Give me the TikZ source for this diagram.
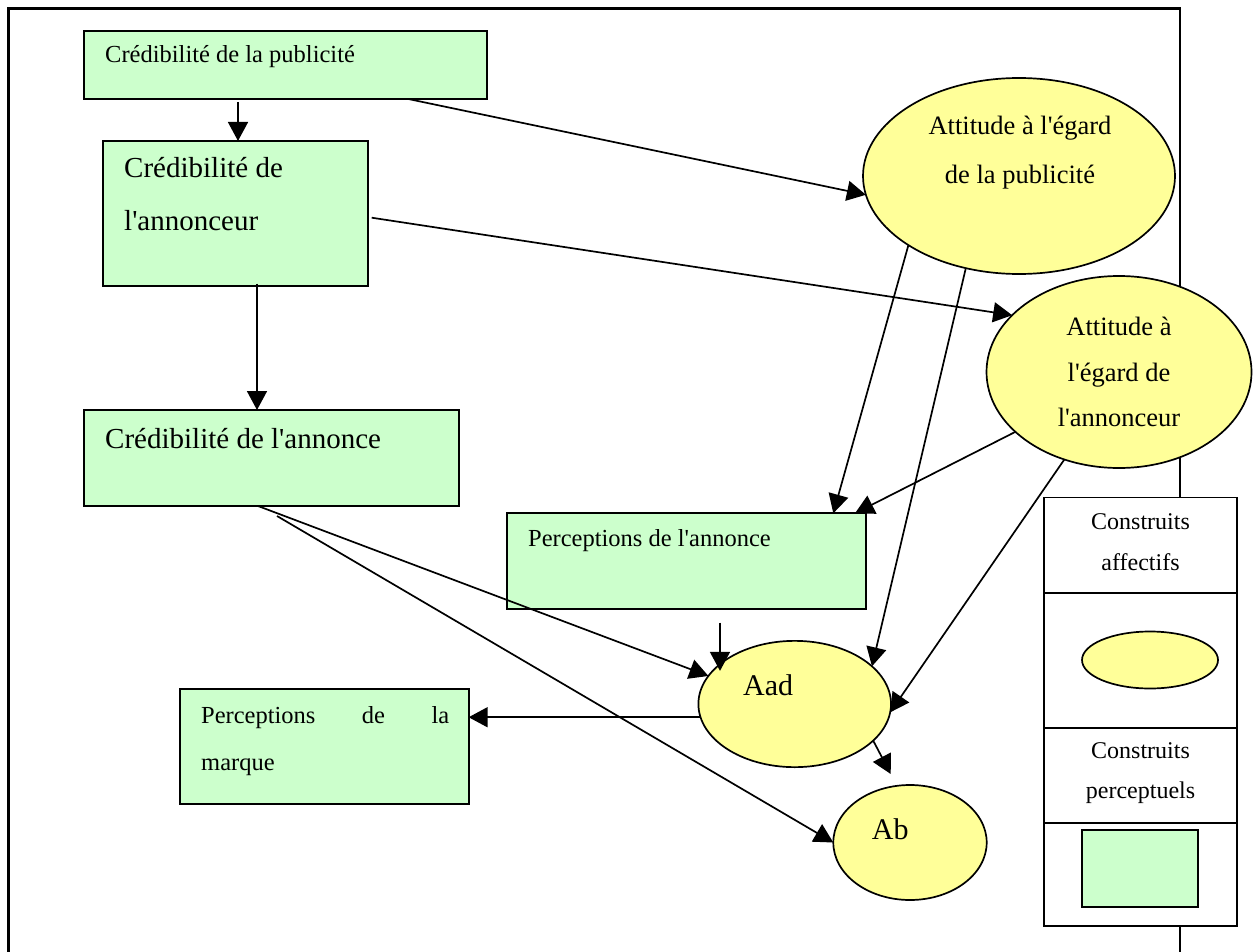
\documentclass[tikz,border=0pt]{standalone}
\usepackage{fontspec}
\setmainfont{Liberation Serif}[Ligatures=TeXOff]
\usetikzlibrary{arrows.meta,shapes.geometric}
\definecolor{boxgreen}{HTML}{CCFFCC}
\definecolor{ellyellow}{HTML}{FFFF99}
\begin{document}
\begin{tikzpicture}[x=1pt,y=-1pt,
  gbox/.style={draw=black,fill=boxgreen,line width=1.8pt,rectangle,inner sep=0pt,outer sep=0pt},
  yell/.style={draw=black,fill=ellyellow,line width=1.7pt,ellipse,inner sep=0pt,outer sep=0pt},
  lcell/.style={draw=black,fill=white,line width=1.6pt,rectangle,inner sep=0pt,outer sep=0pt,minimum width=192.7pt},
  arr/.style={-{Triangle[length=19pt,width=20pt]},line width=1.7pt},
  frame/.style={line width=2.6pt},
  tsmall/.style={font=\fontsize{24.5}{30}\selectfont,inner sep=0pt,anchor=base west},
  tmid/.style={font=\fontsize{26.5}{32}\selectfont,inner sep=0pt,anchor=base},
  tbig/.style={font=\fontsize{29}{35}\selectfont,inner sep=0pt,anchor=base west},
  tab/.style={font=\fontsize{30}{36}\selectfont,inner sep=0pt,anchor=base west},
  tleg/.style={font=\fontsize{24}{30}\selectfont,inner sep=0pt,anchor=base}]
\useasboundingbox (0,0) rectangle (1257,952);
% outer frame
\draw[frame] (8.3,952) -- (8.3,8.3) -- (1180,8.3) -- (1180,952);

% boxes
\node[gbox,minimum width=403pt,minimum height=68pt] (b1) at (285.5,65) {};
\node[gbox,minimum width=265pt,minimum height=144.7pt] (b2) at (235.5,213.3) {};
\node[gbox,minimum width=375pt,minimum height=96pt] (b3) at (271.5,458) {};
\node[gbox,minimum width=288.7pt,minimum height=115pt] (b4) at (324.3,746.5) {};
\node[gbox,minimum width=359pt,minimum height=96pt] (b5) at (686.2,561.3) {};

% ellipses
\node[yell,minimum width=312pt,minimum height=196pt] (e1) at (1019,176) {};
\node[yell,minimum width=265pt,minimum height=192pt] (e2) at (1119,372) {};
\node[yell,minimum width=192.6pt,minimum height=126.3pt] (ea) at (794.7,704) {};
\node[yell,minimum width=153.4pt,minimum height=115pt] (eb) at (910,842.5) {};

% texts
\node[tsmall] (t1) at (105,63) {Crédibilité de la publicité};
\node[tbig] (t2a) at (124,177.5) {Crédibilité de};
\node[tbig] (t2b) at (124,230) {l'annonceur};
\node[tbig] (t3) at (105,448) {Crédibilité de l'annonce};
\node[tsmall] (t5) at (528,546) {Perceptions de l'annonce};
\node[tsmall] (t4a) at (201,723) {\hbox to 248pt{Perceptions\hfill de\hfill la}};
\node[tsmall] (t4b) at (201,770) {marque};
\node[tmid] (te1a) at (1020,135) {Attitude à l'égard};
\node[tmid] (te1b) at (1020,183) {de la publicité};
\node[tmid] (te2a) at (1119,335) {Attitude à};
\node[tmid] (te2b) at (1119,381.7) {l'égard de};
\node[tmid] (te2c) at (1119,426.7) {l'annonceur};
\node[tab] (tea) at (743,695) {Aad};
\node[tab] (teb) at (871.7,839) {Ab};

% connectors
\draw[arr] ([xshift=2.5pt,yshift=39pt]b2.north) -- ([xshift=2.5pt]b2.north);
\draw[arr] ([xshift=21.5pt,yshift=2pt]b2.south) -- ([xshift=-14.5pt]b3.north);
\draw[arr] ([xshift=122.8pt]b1.south) -- (e1.187);
\draw[arr] ([xshift=3.7pt,yshift=-4.4pt]b2.east) -- (e2.152);
\draw[arr] (e1.212) -- ([xshift=-32.4pt]b5.north east);
\draw[arr] (e1.240) -- (ea.26);
\draw[arr] (e2.210) -- ([xshift=-10.7pt]b5.north east);
\draw[arr] (e2.238) -- (ea.355);
\draw[arr] ([xshift=-13.5pt]b3.south) -- (ea.162);
\draw[arr] ([xshift=5.5pt,yshift=-10pt]b3.south) -- (eb.west);
\draw[arr] ([xshift=33.8pt,yshift=-13.4pt]b5.south) -- ([xshift=33.8pt]b5.south |- ea.158);
\draw[arr] (ea.188) -- (ea.188 -| b4.east);
\draw[arr] (ea.335) -- ([xshift=-19.3pt,yshift=11pt]eb.north);

% legend
\node[lcell,minimum height=95.4pt] (l1) at (1140.35,545) {};
\node[lcell,minimum height=135pt] (l2) at (1140.35,660.2) {};
\node[lcell,minimum height=95pt] (l3) at (1140.35,775.2) {};
\node[lcell,minimum height=103.3pt] (l4) at (1140.35,874.35) {};
\node[yell,minimum width=136pt,minimum height=57pt] (le) at (1150,660) {};
\node[gbox,minimum width=116pt,minimum height=76.7pt] (lr) at (1140,868.3) {};
\node[tleg] (tl1) at (1140.5,529) {Construits};
\node[tleg] (tl2) at (1140.5,570) {affectifs};
\node[tleg] (tl3) at (1140.5,758) {Construits};
\node[tleg] (tl4) at (1140.5,798) {perceptuels};
\end{tikzpicture}
\end{document}
